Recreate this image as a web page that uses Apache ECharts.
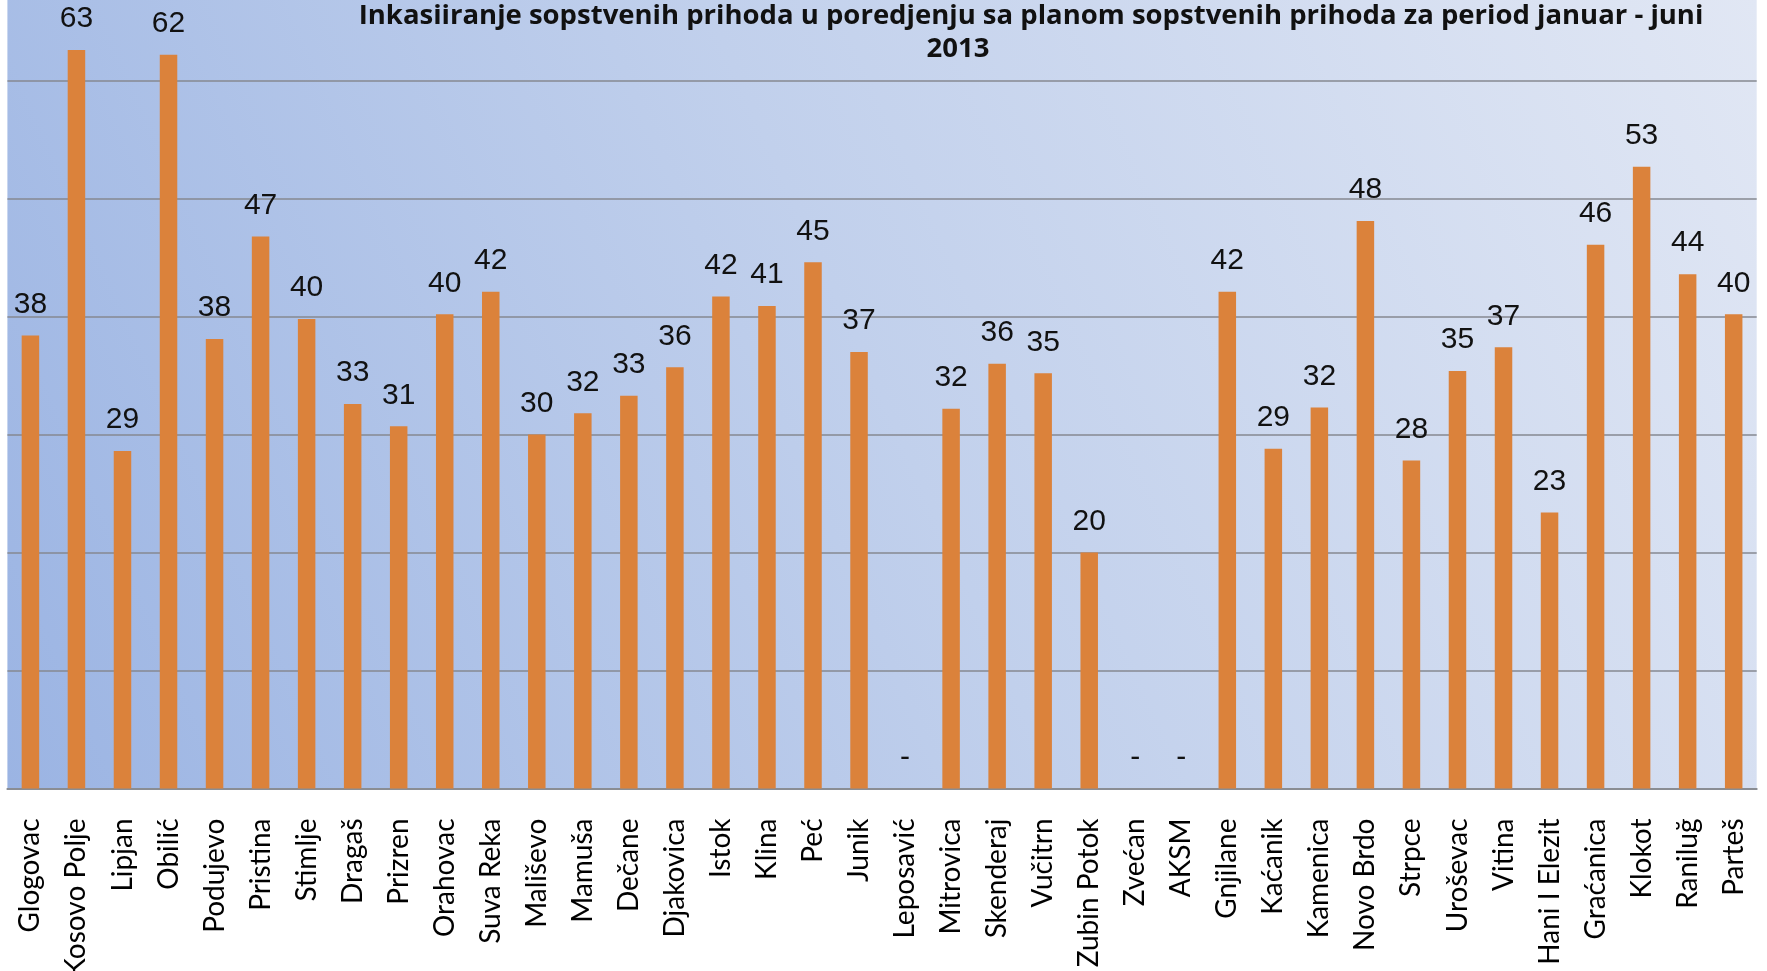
<!DOCTYPE html>
<html>
<head>
<meta charset="utf-8">
<script src="https://cdn.jsdelivr.net/npm/echarts@6/dist/echarts.min.js"></script>
<style>
  html, body { margin: 0; padding: 0; background: #ffffff; }
  #chart { width: 1767px; height: 971px; }
</style>
</head>
<body>
<div id="chart"></div>
<script>
// ---- data ----
const titleLine1 = 'Inkasiiranje sopstvenih prihoda u poredjenju sa planom sopstvenih prihoda za period januar - juni';
const titleLine2 = '2013';

const categories = ['Glogovac','Kosovo Polje','Lipjan','Obilić','Podujevo','Pristina','Stimlje','Dragaš','Prizren','Orahovac',
  'Suva Reka','Mališevo','Mamuša','Dečane','Djakovica','Istok','Klina','Peć','Junik','Leposavić',
  'Mitrovica','Skenderaj','Vučitrn','Zubin Potok','Zvećan','AKSM','Gnjilane','Kaćanik','Kamenica','Novo Brdo',
  'Strpce','Uroševac','Vitina','Hani I Elezit','Graćanica','Klokot','Raniluğ','Parteš'];

const values = [38.4, 62.6, 28.6, 62.2, 38.1, 46.8, 39.8, 32.6, 30.7, 40.2,
  42.1, 30.0, 31.8, 33.3, 35.7, 41.7, 40.9, 44.6, 37.0, 0,
  32.2, 36.0, 35.2, 20.0, 0, 0, 42.1, 28.8, 32.3, 48.1,
  27.8, 35.4, 37.4, 23.4, 46.1, 52.7, 43.6, 40.2];

const yTicks = [0, 10, 20, 30, 40, 50, 60];

// ---- chart ----
const chart = echarts.init(document.getElementById('chart'), null, { renderer: 'canvas' });

const option = {
  animation: false,
  backgroundColor: '#ffffff',
  grid: {
    left: 7.4, right: 10.3, top: 0, bottom: 182.5,
    containLabel: false,
    outerBoundsMode: 'none',
    show: true,
    borderWidth: 0,
    backgroundColor: {
      type: 'linear', x: 0, y: 1, x2: 1, y2: 0,
      colorStops: [
        { offset: 0, color: '#9bb4e3' },
        { offset: 0.5, color: '#c1d0ec' },
        { offset: 1, color: '#e1e7f4' }
      ]
    }
  },
  graphic: [
    { type: 'text', x: 1031, y: 16, z: 10,
      style: { text: titleLine1, font: 'bold 27.5px "Open Sans"', fill: '#111111', textAlign: 'center', textVerticalAlign: 'middle' } },
    { type: 'text', x: 958, y: 49.5, z: 10,
      style: { text: titleLine2, font: 'bold 27.5px "Open Sans"', fill: '#111111', textAlign: 'center', textVerticalAlign: 'middle' } }
  ],
  xAxis: {
    type: 'category',
    data: categories,
    boundaryGap: true,
    axisTick: { show: false },
    axisLine: { show: true, lineStyle: { color: '#8a8d93', width: 2 } },
    axisLabel: {
      interval: 0, rotate: 90, margin: 30,
      fontFamily: 'Lato', fontSize: 28, color: '#000000'
    },
    splitLine: { show: false }
  },
  yAxis: {
    type: 'value',
    min: yTicks[0],
    max: 66.84,
    interval: 10,
    axisLine: { show: false },
    axisTick: { show: false },
    axisLabel: { show: false },
    splitLine: { show: true, showMinLine: false, showMaxLine: false, lineStyle: { color: '#868990', width: 1.5 } }
  },
  series: [{
    type: 'bar',
    data: values,
    barWidth: 17.5,
    itemStyle: { color: '#db823b' },
    label: {
      show: true,
      position: 'top',
      distance: 16,
      fontFamily: 'Liberation Sans',
      fontSize: 30,
      color: '#111111',
      formatter: p => (p.value === 0 ? '-' : String(Math.round(p.value)))
    }
  }]
};

chart.setOption(option);
</script>
</body>
</html>
